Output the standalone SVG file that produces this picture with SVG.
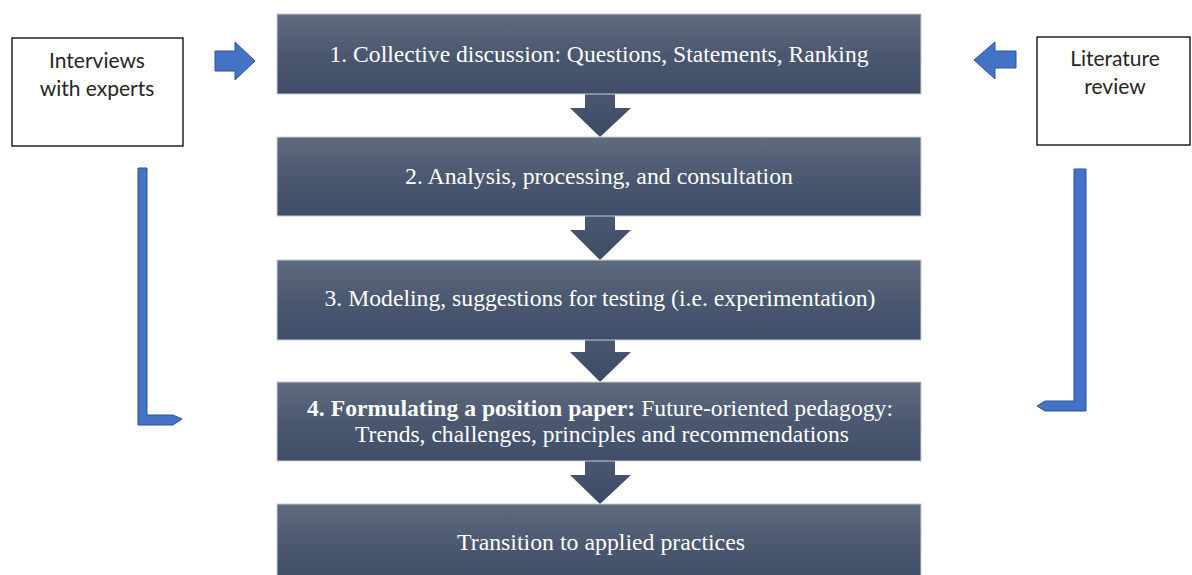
<svg xmlns="http://www.w3.org/2000/svg" width="1192" height="575" viewBox="0 0 1192 575">
<style>
.step{fill:url(#g);stroke:#c9ced6;stroke-width:1}
.st{font-family:"Liberation Serif","Times New Roman",serif;font-size:23px;fill:#ffffff;text-anchor:middle}
.side{fill:#ffffff;stroke:#000000;stroke-width:1.3}
.sd{font-family:Lato,"Liberation Sans",sans-serif;font-size:21px;fill:#262626;text-anchor:middle}
.down{fill:url(#ga)}
.blue{fill:#4472c4;stroke:#2f5597;stroke-width:1}
</style>
<defs>
<linearGradient id="g" x1="0" y1="0" x2="0" y2="1">
<stop offset="0" stop-color="#5f6b7e"/>
<stop offset="0.5" stop-color="#4b5870"/>
<stop offset="1" stop-color="#3f4d68"/>
</linearGradient>
<linearGradient id="ga" x1="0" y1="0" x2="0" y2="1">
<stop offset="0" stop-color="#4a5770"/>
<stop offset="1" stop-color="#3c4a64"/>
</linearGradient>
</defs>
<rect width="1192" height="575" fill="#ffffff"/>
<g id="connectors">
<polygon class="down" points="585,94 615,94 615,108 631,108 600,137 570,108 585,108"/>
<polygon class="down" points="585,216 615,216 615,230 631,230 600,260 570,230 585,230"/>
<polygon class="down" points="585,340 615,340 615,352 631,352 600,382 570,352 585,352"/>
<polygon class="down" points="585,461 615,461 615,475 631,475 600,504 570,475 585,475"/>
<polygon class="blue" points="215,51 235,51 235,42 255,61 235,80 235,71 215,71"/>
<polygon class="blue" points="1016,51 995,51 995,42 974,60 995,79 995,68 1016,68"/>
<polygon class="blue" points="138,168 147,168 147,415 173,415 182,419 173,425 138,425"/>
<polygon class="blue" points="1086,169 1074,169 1074,401 1045,401 1037,406 1045,411 1086,411"/>
</g>
<g id="n1"><rect class="step" x="277" y="14" width="644" height="80"/>
<text class="st" x="599" y="62" textLength="539" lengthAdjust="spacingAndGlyphs">1. Collective discussion: Questions, Statements, Ranking</text></g>
<g id="n2"><rect class="step" x="277" y="137" width="644" height="79"/>
<text class="st" x="599" y="184" textLength="388" lengthAdjust="spacingAndGlyphs">2. Analysis, processing, and consultation</text></g>
<g id="n3"><rect class="step" x="277" y="260" width="644" height="80"/>
<text class="st" x="600" y="306" textLength="551" lengthAdjust="spacingAndGlyphs">3. Modeling, suggestions for testing (i.e. experimentation)</text></g>
<g id="n4"><rect class="step" x="277" y="382" width="644" height="79"/>
<text class="st" x="600" y="416" textLength="586" lengthAdjust="spacingAndGlyphs"><tspan font-weight="bold">4. Formulating a position paper:</tspan> Future-oriented pedagogy:</text>
<text class="st" x="602" y="442" textLength="494" lengthAdjust="spacingAndGlyphs">Trends, challenges, principles and recommendations</text></g>
<g id="n5"><rect class="step" x="277" y="504" width="644" height="80"/>
<text class="st" x="601" y="550" textLength="288" lengthAdjust="spacingAndGlyphs">Transition to applied practices</text></g>
<g id="interviews"><rect class="side" x="12" y="38" width="171" height="108"/>
<text class="sd" x="97" y="68">Interviews</text>
<text class="sd" x="97" y="96">with experts</text></g>
<g id="literature"><rect class="side" x="1037" y="37" width="153" height="108"/>
<text class="sd" x="1115" y="66">Literature</text>
<text class="sd" x="1115" y="94">review</text></g>
</svg>
